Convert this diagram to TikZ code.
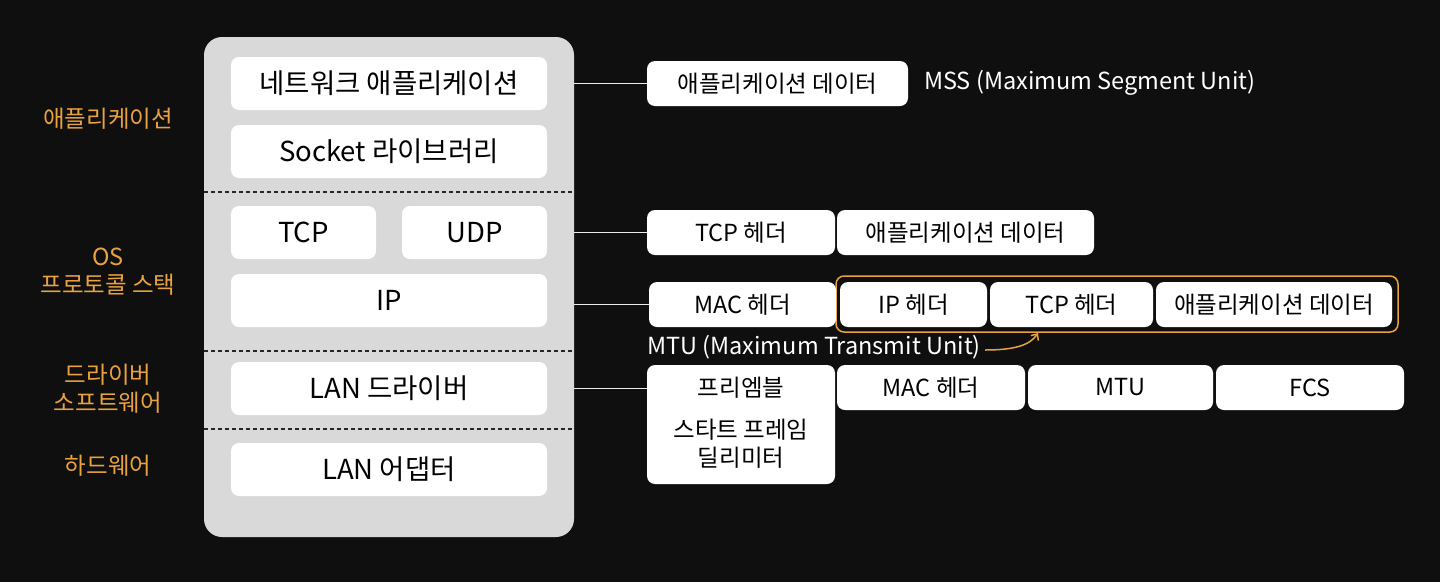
\documentclass[tikz,border=0pt]{standalone}
\usepackage{fontspec}
\setmainfont{Noto Sans CJK KR}
\usetikzlibrary{arrows.meta}
\definecolor{bg}{HTML}{0F0F0F}
\definecolor{panelc}{HTML}{D9D9D9}
\definecolor{orng}{HTML}{E9A23F}
\begin{document}
\begin{tikzpicture}[x=1pt,y=-1pt,
  panel/.style={fill=panelc, rounded corners=18pt, inner sep=0pt, minimum width=370pt, minimum height=500pt},
  lbox/.style={fill=white, rounded corners=8pt, inner sep=0pt, minimum height=53pt, text=black, font=\fontsize{27.5}{32}\selectfont},
  rbox/.style={fill=white, rounded corners=8pt, inner sep=0pt, minimum height=45pt, text=black, font=\fontsize{23.5}{28}\selectfont},
  side/.style={text=orng, align=center, font=\fontsize{23.5}{28}\selectfont},
  note/.style={text=white, anchor=west, inner sep=0pt, font=\fontsize{23.5}{28}\selectfont},
  conn/.style={draw=white!92!black, line width=1.5pt},
  sep/.style={draw=black!85, line width=1.2pt, dash pattern=on 4pt off 3pt}
]
\fill[bg] (0,0) rectangle (1440,582);
\useasboundingbox (0,0) rectangle (1440,582);

% stack panel
\node[panel] (stack) at (389,287) {};
\node[lbox, minimum width=316pt] (nw) at (389,83.5) {네트워크 애플리케이션};
\node[lbox, minimum width=316pt] (sock) at (389,151.5) {Socket 라이브러리};
\node[lbox, minimum width=145pt] (tcp) at (303.5,232.5) {TCP};
\node[lbox, minimum width=145pt] (udp) at (474.5,232.5) {UDP};
\node[lbox, minimum width=316pt] (ip) at (389,300.5) {IP};
\node[lbox, minimum width=316pt] (land) at (389,388.5) {LAN 드라이버};
\node[lbox, minimum width=316pt] (lana) at (389,469.5) {LAN 어댑터};

\coordinate (s1) at (204,192);
\coordinate (s2) at (204,351);
\coordinate (s3) at (204,429);
\draw[sep] (s1) -- (stack.east |- s1);
\draw[sep] (s2) -- (stack.east |- s2);
\draw[sep] (s3) -- (stack.east |- s3);

% side labels
\node[side] (lapp) at (108,119) {애플리케이션};
\node[side] (los) at (108,272) {OS\\프로토콜 스택};
\node[side] (ldrv) at (108,388.5) {드라이버\\소프트웨어};
\node[side] (lhw) at (108,466) {하드웨어};

% right side
\node[rbox, minimum width=261pt] (ad1) at (777.5,83.5) {애플리케이션 데이터};
\node[note] (mss) at (924,83) {MSS (Maximum Segment Unit)};

\node[rbox, minimum width=188pt] (tcph) at (741,232.5) {TCP 헤더};
\node[rbox, minimum width=257pt] (ad2) at (965.5,232.5) {애플리케이션 데이터};

\node[draw=orng, line width=1.5pt, rounded corners=8pt, minimum width=562pt, minimum height=56pt, inner sep=0pt] (frame) at (1117,304) {};
\node[rbox, minimum width=187pt] (mach) at (742.5,304.5) {MAC 헤더};
\node[rbox, minimum width=147pt] (iph) at (913.5,304.5) {IP 헤더};
\node[rbox, minimum width=163pt] (tcph2) at (1071.5,304.5) {TCP 헤더};
\node[rbox, minimum width=236pt] (ad3) at (1274,304.5) {애플리케이션 데이터};

\node[note] (mtu) at (647,347) {MTU (Maximum Transmit Unit)};
\coordinate (ma) at (985,350);
\coordinate (mb) at (1038,333);
\draw[orng, line width=1.5pt, -{Straight Barb[length=5pt,width=9pt]}] (ma) .. controls (1015,350) and (1030,345) .. (mb);

\node[rbox, minimum width=188pt, minimum height=119pt] (pre) at (741,424.5) {};
\node[text=black, font=\fontsize{23.5}{28}\selectfont] (pret) at (741,388) {프리엠블};
\node[text=black, align=center, font=\fontsize{23.5}{28}\selectfont] (sfd) at (741,444) {스타트 프레임\\딜리미터};
\node[rbox, minimum width=188pt] (mac2) at (931,387.5) {MAC 헤더};
\node[rbox, minimum width=185pt] (mtub) at (1120.5,387.5) {MTU};
\node[rbox, minimum width=188pt] (fcs) at (1310,387.5) {FCS};

% connectors
\draw[conn] (stack.east |- ad1.west) -- (ad1.west);
\draw[conn] (stack.east |- tcph.west) -- (tcph.west);
\draw[conn] (stack.east |- mach.west) -- (mach.west);
\draw[conn] (stack.east |- land.east) -- (pre.west |- land.east);
\end{tikzpicture}
\end{document}
